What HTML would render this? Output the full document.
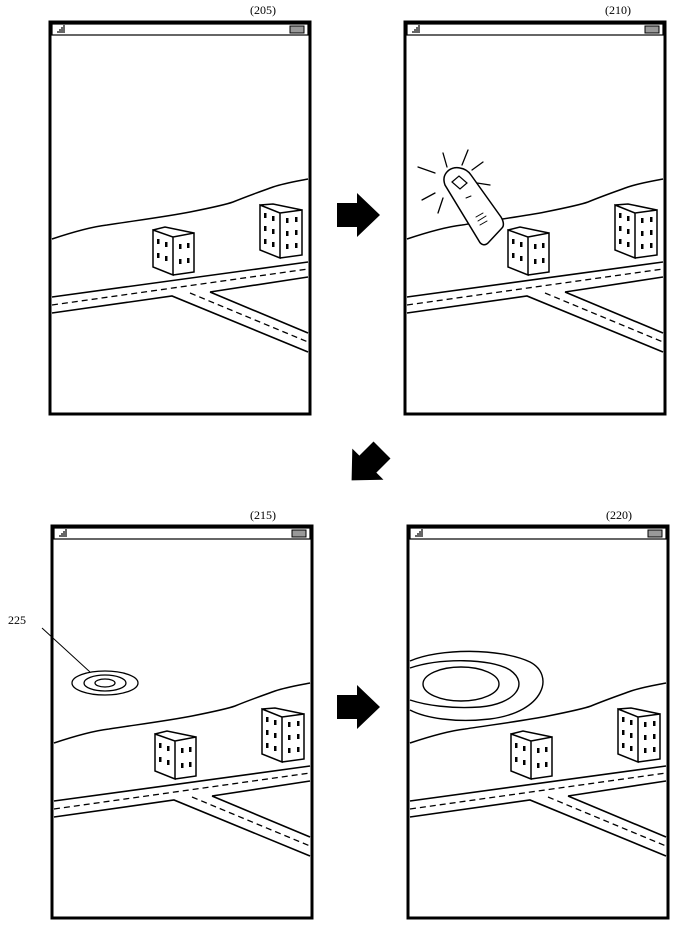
<!DOCTYPE html>
<html><head><style>html,body{margin:0;padding:0;background:#fff}svg{display:block}</style></head><body>
<svg width="674" height="931" viewBox="0 0 674 931" xmlns="http://www.w3.org/2000/svg" font-family="Liberation Serif, serif">
<defs>
<g id="scene" fill="none" stroke="#000">
  <rect x="0" y="0" width="260" height="392" stroke-width="3"/>
  <rect x="2" y="2" width="256" height="11" stroke-width="1.2"/>
  <path d="M8 11v-2M10 11v-4M12 11v-6M14 11v-8" stroke-width="1.2"/>
  <rect x="240" y="4" width="14" height="7" fill="#999" stroke-width="1"/>
  <path d="M2 217 C20 211 40 205 57 203 C90 198 120 194 140 190 C160 186 175 183 183 180 C200 173 215 168 223 165 C235 161 248 159 258 157" stroke-width="1.5"/>
  <path d="M103 208 L123 215 L123 253 L103 245 Z M123 215 L144 211 L144 250 L123 253 M103 208 L115 205 L144 211" stroke-width="1.5" fill="#fff"/>
  <g fill="#000" stroke="none">
    <rect x="107" y="217" width="2.5" height="5"/><rect x="115" y="220" width="2.5" height="5"/>
    <rect x="107" y="231" width="2.5" height="5"/><rect x="115" y="234" width="2.5" height="5"/>
    <rect x="129" y="222" width="2.5" height="5"/><rect x="137" y="221" width="2.5" height="5"/>
    <rect x="129" y="237" width="2.5" height="5"/><rect x="137" y="236" width="2.5" height="5"/>
  </g>
  <path d="M210 183 L230 191 L230 236 L210 228 Z M230 191 L252 188 L252 233 L230 236 M210 183 L223 182 L252 188" stroke-width="1.5" fill="#fff"/>
  <g fill="#000" stroke="none">
    <rect x="214" y="191" width="2.5" height="5"/><rect x="222" y="194" width="2.5" height="5"/>
    <rect x="214" y="204" width="2.5" height="5"/><rect x="222" y="207" width="2.5" height="5"/>
    <rect x="214" y="217" width="2.5" height="5"/><rect x="222" y="220" width="2.5" height="5"/>
    <rect x="236" y="196" width="2.5" height="5"/><rect x="245" y="195" width="2.5" height="5"/>
    <rect x="236" y="209" width="2.5" height="5"/><rect x="245" y="208" width="2.5" height="5"/>
    <rect x="236" y="222" width="2.5" height="5"/><rect x="245" y="221" width="2.5" height="5"/>
  </g>
  <path d="M2 275 L258 240 M2 291 L122 274 L258 330 M160 270 L258 255 M160 270 L258 311" stroke-width="1.6"/>
  <path d="M2 283 L258 247 M140 271 L258 320" stroke-width="1.3" stroke-dasharray="6 4"/>
</g>
<path id="arr" d="M0 -12 L20 -12 L20 -22 L43 0 L20 22 L20 12 L0 12 Z" fill="#000"/>
</defs>

<text x="250" y="14" font-size="12">(205)</text>
<text x="605" y="14" font-size="12">(210)</text>
<text x="250" y="519" font-size="12">(215)</text>
<text x="606" y="519" font-size="12">(220)</text>

<use href="#scene" transform="translate(50,22)"/>
<use href="#scene" transform="translate(405,22)"/>
<use href="#scene" transform="translate(52,526)"/>
<use href="#scene" transform="translate(408,526)"/>

<use href="#arr" transform="translate(337,215)"/>
<use href="#arr" transform="translate(382,450) rotate(135)"/>
<use href="#arr" transform="translate(337,707)"/>

<g fill="#fff" stroke="#000" stroke-width="1.5" stroke-linecap="round">
  <path d="M445 185 C441 174 450 166 460 168 C466 169 469 172 471 175 L501 217 C504 222 504 226 502 228 L488 243 C485 246 481 245 479 241 Z"/>
  <path d="M452 182 L459 176 L467 183 L460 189 Z" fill="none" stroke-width="1.2"/>
  <path d="M466 198 L471 196 M476 217 L483 213 M478 221 L486 216 M480 225 L487 221" stroke-width="1"/>
  <path d="M443 153 L447 167 M468 150 L462 165 M483 162 L472 170 M418 167 L435 173 M422 200 L435 193 M443 198 L438 213 M477 183 L490 185" stroke-width="1.3"/>
</g>

<text x="8" y="624" font-size="12">225</text>
<path d="M42 628 L90 672" stroke="#000" stroke-width="1"/>
<g fill="none" stroke="#000" stroke-width="1.3">
  <ellipse cx="105" cy="683" rx="33" ry="12"/>
  <ellipse cx="105" cy="683" rx="21" ry="8"/>
  <ellipse cx="105" cy="683" rx="10" ry="4"/>
</g>
<g fill="none" stroke="#000" stroke-width="1.4">
  <path d="M410 661 C440 648 500 648 530 662 C555 675 545 712 490 719 C455 723 425 718 410 710"/>
  <path d="M410 668 C440 658 490 658 510 670 C530 684 515 704 480 707 C450 709 425 705 410 700"/>
  <ellipse cx="461" cy="684" rx="38" ry="17"/>
</g>
</svg>
</body></html>
